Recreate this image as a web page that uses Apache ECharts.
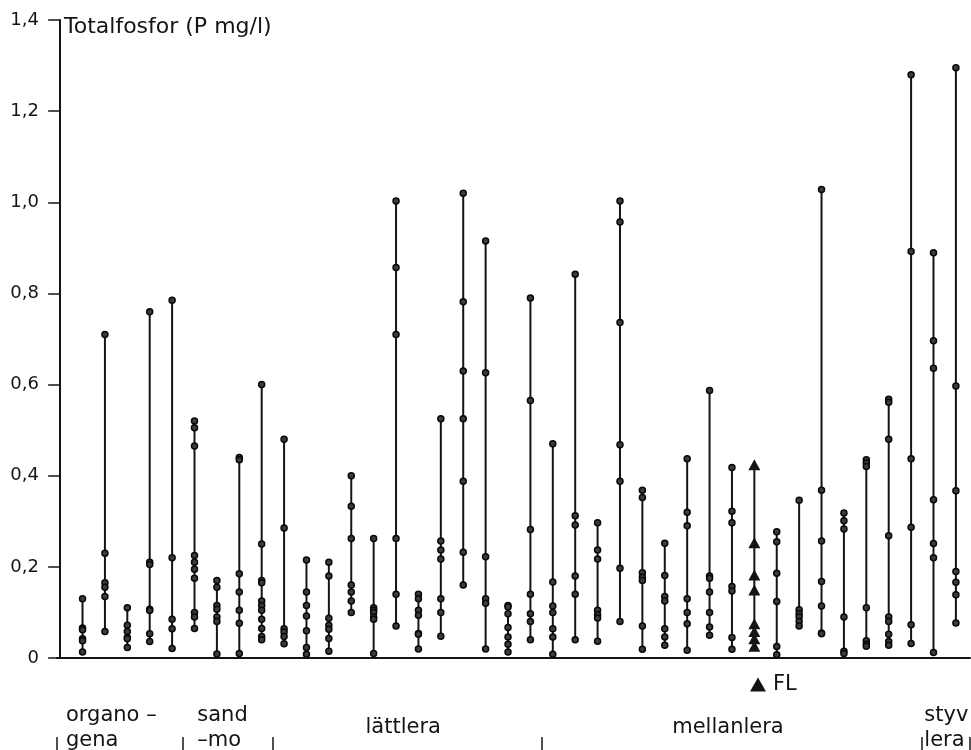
<!DOCTYPE html>
<html>
<head>
<meta charset="utf-8">
<script src="https://cdn.jsdelivr.net/npm/echarts@6/dist/echarts.min.js"></script>
<style>
  html, body { margin: 0; padding: 0; background: #fff; }
  #chart { width: 971px; height: 750px; }
</style>
</head>
<body>
<div id="chart"></div>
<script>
// Totalfosfor (P mg/l) per provplats; varje lista är en plats, grupperade efter jordart.
const organogena = [
  [0.13, 0.066, 0.062, 0.042, 0.038, 0.013],
  [0.71, 0.23, 0.165, 0.155, 0.135, 0.058],
  [0.11, 0.072, 0.058, 0.045, 0.042, 0.023],
  [0.76, 0.21, 0.205, 0.107, 0.104, 0.053, 0.036],
  [0.785, 0.22, 0.085, 0.064, 0.021]
];
const sandMo = [
  [0.52, 0.505, 0.465, 0.225, 0.21, 0.195, 0.175, 0.1, 0.09, 0.065],
  [0.17, 0.155, 0.115, 0.107, 0.09, 0.08, 0.009],
  [0.44, 0.435, 0.185, 0.145, 0.105, 0.076, 0.01],
  [0.6, 0.25, 0.17, 0.165, 0.125, 0.115, 0.105, 0.085, 0.065, 0.047, 0.04]
];
const lattlera = [
  [0.48, 0.285, 0.064, 0.057, 0.047, 0.031],
  [0.215, 0.145, 0.115, 0.092, 0.06, 0.023, 0.008],
  [0.21, 0.18, 0.087, 0.072, 0.063, 0.043, 0.015],
  [0.40, 0.333, 0.262, 0.16, 0.145, 0.125, 0.10],
  [0.262, 0.11, 0.105, 0.1, 0.09, 0.085, 0.01],
  [1.003, 0.857, 0.71, 0.262, 0.14, 0.07],
  [0.14, 0.13, 0.105, 0.094, 0.054, 0.052, 0.02],
  [0.525, 0.257, 0.237, 0.217, 0.13, 0.1, 0.048],
  [1.02, 0.782, 0.63, 0.525, 0.388, 0.232, 0.16],
  [0.915, 0.626, 0.222, 0.13, 0.12, 0.02],
  [0.115, 0.112, 0.097, 0.067, 0.046, 0.03, 0.013],
  [0.79, 0.565, 0.282, 0.14, 0.097, 0.08, 0.04]
];
// FL-platsen ritas med trianglar
const flSamples = [0.424, 0.253, 0.182, 0.149, 0.075, 0.058, 0.042, 0.026];
const mellanlera = [
  [0.47, 0.167, 0.114, 0.1, 0.064, 0.046, 0.008],
  [0.842, 0.312, 0.292, 0.18, 0.14, 0.04],
  [0.297, 0.237, 0.217, 0.105, 0.095, 0.088, 0.037],
  [1.003, 0.957, 0.736, 0.468, 0.388, 0.197, 0.08],
  [0.368, 0.352, 0.187, 0.177, 0.17, 0.07, 0.019],
  [0.252, 0.181, 0.135, 0.125, 0.064, 0.046, 0.028],
  [0.437, 0.32, 0.29, 0.13, 0.1, 0.075, 0.017],
  [0.587, 0.18, 0.175, 0.145, 0.1, 0.068, 0.05],
  [0.418, 0.322, 0.297, 0.157, 0.147, 0.045, 0.019],
  flSamples,
  [0.277, 0.255, 0.186, 0.124, 0.025, 0.007],
  [0.346, 0.106, 0.097, 0.09, 0.08, 0.07],
  [1.028, 0.368, 0.257, 0.168, 0.114, 0.055, 0.053],
  [0.318, 0.301, 0.283, 0.09, 0.015, 0.01],
  [0.435, 0.428, 0.42, 0.11, 0.038, 0.03, 0.026],
  [0.568, 0.561, 0.48, 0.268, 0.09, 0.08, 0.052, 0.036, 0.028],
  [1.28, 0.892, 0.437, 0.287, 0.073, 0.032]
];
const styvLera = [
  [0.889, 0.696, 0.636, 0.347, 0.251, 0.22, 0.012],
  [1.295, 0.597, 0.367, 0.19, 0.166, 0.139, 0.077]
];

const groupLabels = ['organo –\ngena', 'sand\n–mo', 'lättlera', 'mellanlera', 'styv\nlera'];
const groupSites = [organogena, sandMo, lattlera, mellanlera, styvLera];
const yAxisName = 'Totalfosfor (P mg/l)';
const flName = 'FL';
const yMin = 0, yMax = 1.4, yStep = 0.2;

// label placement for each soil group: alignment and pixel nudge from the group span
const groupLabelLayout = [
  { align: 'left', dx: 9 },
  { align: 'left', dx: 14 },
  { align: 'center', dx: -4 },
  { align: 'center', dx: -4 },
  { align: 'left', dx: 2 }
];

const FONT = 'DejaVu Sans';
const INK = '#141414';

// flatten the groups into consecutive site positions 1..N
const sites = [];
const groupBounds = [];
groupSites.forEach(g => {
  const start = sites.length;
  g.forEach(s => sites.push(s));
  groupBounds.push([start + 0.5, sites.length + 0.5]);
});

const rangeData = sites.map((s, i) => [i + 1, Math.min(...s), Math.max(...s)]);
const dotData = [];
const flData = [];
sites.forEach((s, i) => {
  s.forEach(v => (s === flSamples ? flData : dotData).push([i + 1, v]));
});

const xMin = -0.14, xMax = sites.length + 0.63;

const chart = echarts.init(document.getElementById('chart'), null, { renderer: 'canvas' });

chart.setOption({
  animation: false,
  backgroundColor: '#fff',
  textStyle: { fontFamily: FONT, color: INK },
  title: {
    text: yAxisName,
    left: 64, top: 16, padding: 0,
    textStyle: { fontFamily: FONT, fontSize: 22, fontWeight: 'normal', color: INK }
  },
  legend: {
    data: [flName],
    left: 750, top: 674, padding: 0,
    icon: 'triangle', itemWidth: 16, itemHeight: 14, itemGap: 8,
    selectedMode: false,
    textStyle: { fontFamily: FONT, fontSize: 21, color: INK, padding: [0, 0, 0, 2] }
  },
  grid: { left: 57, right: 1, top: 20, height: 638, containLabel: false },
  xAxis: {
    type: 'value', min: xMin, max: xMax,
    axisLine: { show: true, onZero: false, lineStyle: { color: INK, width: 2 } },
    axisTick: { show: false },
    axisLabel: { show: false },
    splitLine: { show: false }
  },
  yAxis: {
    type: 'value', min: yMin, max: yMax, interval: yStep,
    axisLine: { show: true, lineStyle: { color: INK, width: 2 } },
    axisTick: { show: true, length: 12, lineStyle: { color: INK, width: 1.5 } },
    axisLabel: {
      margin: 18, fontFamily: FONT, fontSize: 18, color: INK,
      formatter: v => (v === 0 ? '0' : v.toFixed(1).replace('.', ','))
    },
    splitLine: { show: false }
  },
  series: [
    {
      name: 'intervall',
      type: 'custom',
      z: 2,
      data: rangeData,
      encode: { x: 0, y: [1, 2] },
      renderItem: (params, api) => {
        const x = api.value(0);
        const p1 = api.coord([x, api.value(1)]);
        const p2 = api.coord([x, api.value(2)]);
        return {
          type: 'line',
          shape: { x1: p1[0], y1: p1[1], x2: p2[0], y2: p2[1] },
          style: { stroke: INK, lineWidth: 2 }
        };
      }
    },
    {
      name: 'prov',
      type: 'scatter',
      z: 3,
      symbol: 'circle',
      symbolSize: 6,
      itemStyle: { color: '#3c3c3c', borderColor: '#080808', borderWidth: 1.5, opacity: 1 },
      data: dotData
    },
    {
      name: flName,
      type: 'scatter',
      z: 4,
      symbol: 'triangle',
      symbolSize: [12, 11],
      itemStyle: { color: INK, opacity: 1 },
      data: flData
    }
  ]
});

// soil group labels and bracket marks under the axis, placed through the x scale
const toPx = v => chart.convertToPixel({ xAxisIndex: 0 }, v);
const boundaryValues = [xMin];
groupBounds.forEach((b, i) => {
  boundaryValues.push(i === groupBounds.length - 1 ? xMax : b[1]);
});
const graphics = [];
boundaryValues.forEach(v => {
  const x = Math.round(toPx(v));
  graphics.push({
    type: 'line',
    shape: { x1: x, y1: 737, x2: x, y2: 750 },
    style: { stroke: INK, lineWidth: 1.5 }
  });
});
groupLabels.forEach((label, i) => {
  const left = toPx(boundaryValues[i]);
  const right = toPx(boundaryValues[i + 1]);
  const lay = groupLabelLayout[i];
  const x = lay.align === 'left' ? left + lay.dx : (left + right) / 2 + lay.dx;
  graphics.push({
    type: 'text',
    x: x, y: 728,
    style: {
      text: label,
      font: '21px "' + FONT + '"',
      fill: INK,
      align: lay.align,
      verticalAlign: 'middle',
      lineHeight: 25
    }
  });
});
chart.setOption({ graphic: graphics });
</script>
</body>
</html>
